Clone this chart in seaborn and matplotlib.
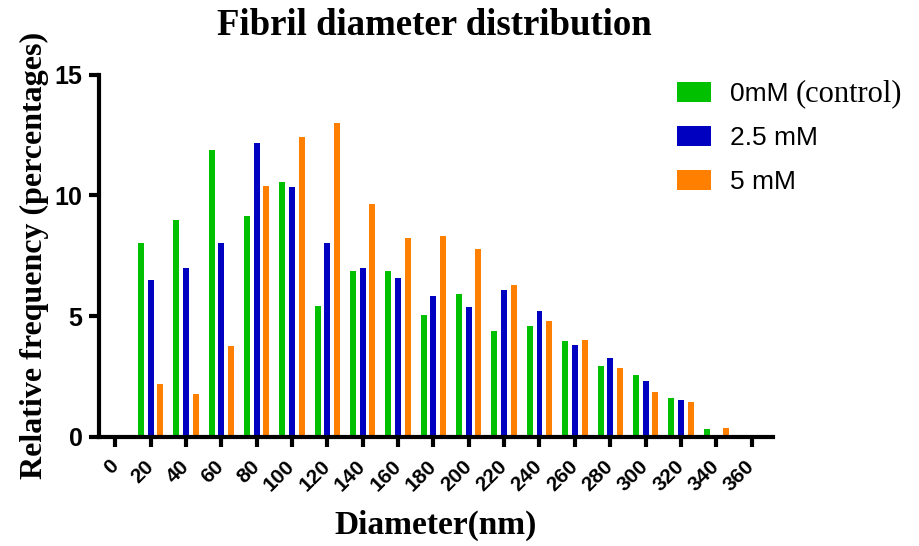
import matplotlib
matplotlib.use("Agg")
import matplotlib.pyplot as plt
import seaborn as sns
import pandas as pd

# ---- data ----
diameters = [20, 40, 60, 80, 100, 120, 140, 160, 180, 200, 220, 240, 260, 280, 300, 320, 340]
control_0mM = [8.05, 9.0, 11.9, 9.15, 10.55, 5.4, 6.85, 6.85, 5.05, 5.9, 4.4, 4.6, 3.97, 2.93, 2.56, 1.59, 0.33]
mM_2_5 = [6.5, 7.0, 8.03, 12.17, 10.37, 8.03, 7.0, 6.6, 5.85, 5.37, 6.1, 5.22, 3.8, 3.25, 2.31, 1.52, 0.05]
mM_5 = [2.2, 1.78, 3.77, 10.4, 12.43, 13.0, 9.65, 8.25, 8.3, 7.77, 6.3, 4.81, 4.02, 2.87, 1.84, 1.44, 0.36]
group_names = ["0mM (control)", "2.5 mM", "5 mM"]
colors = ["#00C000", "#0000C0", "#FF8000"]
x_ticks = list(range(0, 361, 20))
y_ticks = [0, 5, 10, 15]

rows = []
for name, vals in zip(group_names, [control_0mM, mM_2_5, mM_5]):
    for d, v in zip(diameters, vals):
        rows.append({"Diameter": d, "Freq": v, "Group": name})
df = pd.DataFrame(rows)

sns.set_theme(style="white")
plt.rcParams["font.family"] = ["Liberation Sans", "DejaVu Sans"]
for k in ["text.color", "axes.labelcolor", "xtick.color", "ytick.color"]:
    plt.rcParams[k] = "black"

fig = plt.figure(figsize=(9.19, 5.46), dpi=100)
ax = fig.add_axes([0.108, 0.200, 0.733, 0.663])

sns.barplot(data=df, x="Diameter", y="Freq", hue="Group", hue_order=group_names,
            palette=colors, saturation=1, native_scale=True, width=0.82, gap=0.38,
            errorbar=None, linewidth=0, ax=ax)

ax.set_xlim(-9, 372)
ax.set_ylim(0, 15)
ax.set_xticks(x_ticks)
ax.set_xticklabels([str(t) for t in x_ticks], rotation=45, ha="right", va="center",
                   rotation_mode="anchor", fontsize=15, fontweight="bold")
ax.set_yticks(y_ticks)
ax.set_yticklabels([str(t) for t in y_ticks], fontsize=18, fontweight="bold")

for s in ["top", "right"]:
    ax.spines[s].set_visible(False)
for s in ["left", "bottom"]:
    ax.spines[s].set_linewidth(3)
    ax.spines[s].set_color("black")
ax.tick_params(axis="both", which="major", length=7, width=3, color="black",
               direction="out", bottom=True, left=True)
ax.tick_params(axis="x", pad=12)
ax.tick_params(axis="y", pad=5)

serif = ["Liberation Serif", "DejaVu Serif"]
ax.set_xlabel("Diameter(nm)", fontsize=24, fontweight="bold", family=serif, labelpad=11)
ax.set_ylabel("Relative frequency (percentages)", fontsize=23, fontweight="bold",
              family=serif, labelpad=4)
fig.text(0.4725, 0.953, "Fibril diameter distribution", fontsize=26.5, fontweight="bold",
         family=serif, ha="center", va="center")

handles, _ = ax.get_legend_handles_labels()
labels = ["0mM", "2.5 mM", "5 mM"]
leg = ax.legend(handles, labels, loc="upper left", bbox_to_anchor=(0.711, 0.894),
                bbox_transform=fig.transFigure, frameon=False, fontsize=19,
                handlelength=1.29, handleheight=0.8, handletextpad=0.72, labelspacing=0.75)

# second part of the first legend label is set in a serif face, as in the original
fig.canvas.draw()
first_text = leg.get_texts()[0]
bb = first_text.get_window_extent()
x_disp, y_base = first_text.get_transform().transform(first_text.get_position())
W, H = fig.bbox.width, fig.bbox.height
fig.text((bb.x1 + 7) / W, y_base / H, "(control)", ha="left", va="baseline",
         fontsize=22, family=serif)

fig.savefig("out.png", dpi=100)
